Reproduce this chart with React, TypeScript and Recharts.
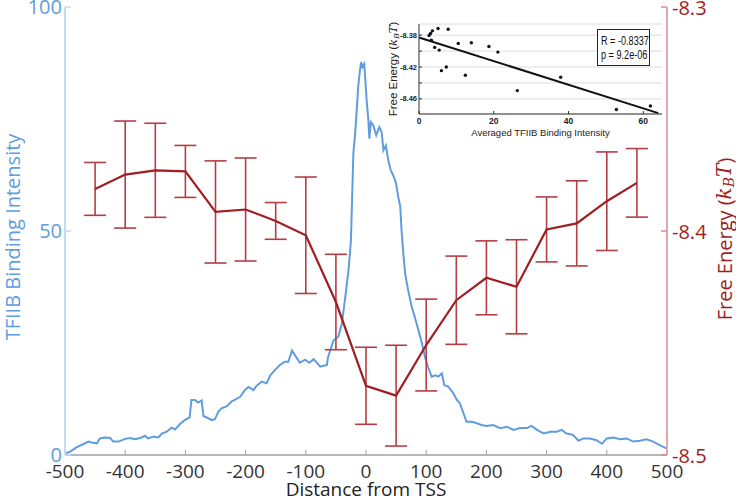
import React from 'react'
import {
  LineChart,
  Line,
  XAxis,
  YAxis,
  ErrorBar,
  Label,
  ComposedChart,
  Scatter,
  CartesianGrid,
  ReferenceLine,
} from 'recharts'

// TFIIB binding profile (blue)
const tssDistance = [
  -500, -492, -481, -470, -461, -455, -447, -442, -434, -425, -420, -411, -400, -392, -384, -375, -367, -362, -353, -345,
  -339, -331, -323, -317, -309, -301, -293, -290, -284, -279, -273, -270, -262, -256, -251, -245, -240, -231, -223, -218,
  -209, -201, -195, -187, -182, -173, -165, -159, -151, -143, -135, -129, -123, -118, -110, -101, -94, -87, -76, -65,
  -63, -54, -46, -40, -35, -29, -25, -21, -18, -15, -13, -10, -8, -6, -3, -1, 1, 4, 5.5, 8,
  12, 17, 22, 26, 29, 33, 37, 41, 45, 50, 54, 57, 59, 62, 65, 70, 76, 81, 87, 93,
  98, 103, 109, 115, 120, 126, 130, 137, 145, 151, 156, 162, 167, 176, 184, 192, 200, 211, 223, 234,
  245, 256, 267, 275, 284, 295, 306, 317, 325, 333, 344, 353, 361, 372, 383, 392, 400, 411, 422, 433,
  444, 455, 466, 477, 488, 499,
]
const tfiibIntensity = [
  0.4, 0.7, 1.7, 2.4, 3.0, 2.8, 2.6, 3.7, 3.9, 3.8, 3.0, 3.0, 3.6, 3.8, 3.5, 3.8, 4.3, 3.7, 4.1, 3.9,
  4.8, 5.2, 6.1, 5.7, 6.9, 7.8, 8.4, 12.3, 12.3, 11.7, 12.2, 8.7, 8.2, 7.8, 8.0, 9.7, 10.4, 10.9, 12.0, 12.3,
  13.0, 14.5, 15.2, 14.5, 15.4, 16.4, 16.0, 17.8, 19.0, 20.1, 20.8, 20.8, 23.3, 22.3, 20.6, 21.3, 20.6, 21.4, 19.7, 20.1,
  21.9, 25.6, 26.4, 29.4, 34.6, 41.3, 48.0, 67.4, 71.8, 77.7, 82.2, 85.9, 87.7, 86.6, 87.3, 83.6, 79.2, 74.7, 70.6, 74.3,
  73.6, 71.4, 73.2, 72.1, 68.0, 69.1, 65.8, 63.6, 62.5, 60.6, 57.3, 55.4, 50.2, 45.0, 40.5, 36.8, 33.1, 30.8, 27.9, 24.9,
  21.9, 19.7, 17.5, 17.8, 17.5, 18.2, 15.6, 15.2, 13.8, 12.3, 11.5, 9.3, 7.4, 7.4, 7.1, 6.7, 6.5, 6.7, 6.0, 6.3,
  5.6, 6.0, 6.0, 6.5, 5.6, 4.8, 5.2, 5.2, 5.6, 4.8, 4.5, 3.2, 3.7, 3.7, 3.3, 2.5, 3.7, 3.9, 3.5, 3.7,
  3.0, 3.2, 3.5, 3.0, 2.2, 1.5,
]

// Free energy per bin (red)
const binCenters = [-450, -400, -350, -300, -250, -200, -150, -100, -50, 0, 50, 100, 150, 200, 250, 300, 350, 400, 450]
const freeEnergy = [
  -8.3812, -8.3748, -8.3729, -8.3734, -8.3915, -8.3904, -8.3955, -8.4019, -8.4317, -8.4691,
  -8.4735, -8.4509, -8.4309, -8.4209, -8.4249, -8.3993, -8.3966, -8.3867, -8.3785,
]
const freeEnergyErr = [
  0.0118, 0.0239, 0.021, 0.0116, 0.0228, 0.023, 0.0082, 0.026, 0.0213, 0.0172,
  0.0225, 0.0205, 0.0197, 0.0165, 0.021, 0.0145, 0.019, 0.022, 0.0153,
]

const distanceTicks = [-500, -400, -300, -200, -100, 0, 100, 200, 300, 400, 500]
const intensityTicks = [0, 50, 100]
const energyTicks = [-8.5, -8.4, -8.3]

// inset: averaged intensity vs free energy
const insetIntensity = [2.7, 3.1, 3.6, 3.3, 4.2, 5.1, 5.4, 6.0, 7.3, 7.8, 10.5, 12.4, 14.0, 18.7, 21.1, 26.3, 37.9, 52.8, 61.9]
const insetEnergy = [
  -8.3804, -8.3779, -8.3746, -8.3863, -8.3954, -8.3716, -8.3988, -8.4246, -8.42, -8.3725,
  -8.3904, -8.4304, -8.3896, -8.3942, -8.4013, -8.4496, -8.4329, -8.4734, -8.4688,
]
const fitX = [0, 64]
const fitY = [-8.3829, -8.4779]
const insetXTicks = [0, 20, 40, 60]
const insetYTicks = [-8.46, -8.44, -8.42, -8.4, -8.38]
const insetYLabelled = [-8.46, -8.42, -8.38]
const statLines = ['R = -0.8337', 'p = 9.2e-06']

const BLUE = '#5f9ddf'
const BLUE_AXIS = '#c4daf2'
const RED = '#a11d22'
const RED_BAR = '#b53e44'
const RED_AXIS = '#d98c90'
const GRAY = '#a0a0a0'
const FONT = "'Open Sans', 'Noto Sans', sans-serif"
const INSET_FONT = "'Liberation Sans', Arial, sans-serif"

const profile = tssDistance.map((x, i) => ({ x, v: tfiibIntensity[i] }))
const energy = binCenters.map((x, i) => ({ x, e: freeEnergy[i], err: freeEnergyErr[i] }))
const scatter = insetIntensity.map((x, i) => ({ x, y: insetEnergy[i] }))

const BottomTick = (props: any) => {
  const { x, y, payload } = props
  const edge = payload.value === -500 || payload.value === 500
  return (
    <g>
      {!edge && <line x1={x} y1={y} x2={x} y2={y - 5} stroke={GRAY} />}
      <text x={x} y={y + 16} textAnchor="middle" dominantBaseline="central" fill="#333" fontSize={19} fontFamily={FONT}>
        {payload.value}
      </text>
    </g>
  )
}

const TopTick = (props: any) => {
  const { x, y, payload } = props
  if (payload.value === -500 || payload.value === 500) return <g />
  return <line x1={x} y1={y} x2={x} y2={y + 5} stroke={GRAY} />
}

const LeftTick = (props: any) => {
  const { x, y, payload } = props
  return (
    <g>
      <line x1={x} y1={y} x2={x + 6} y2={y} stroke={BLUE_AXIS} strokeWidth={1.5} />
      <text x={x - 3} y={y - 1} textAnchor="end" dominantBaseline="central" fill={BLUE} fontSize={20} fontFamily={FONT}>
        {payload.value}
      </text>
    </g>
  )
}

const RightTick = (props: any) => {
  const { x, y, payload } = props
  return (
    <g>
      <line x1={x} y1={y} x2={x - 6} y2={y} stroke={RED_AXIS} strokeWidth={1.5} />
      <text x={x + 5} y={y} textAnchor="start" dominantBaseline="central" fill={RED} fontSize={20} fontFamily={FONT}>
        {payload.value.toFixed(1)}
      </text>
    </g>
  )
}

const InsetBottomTick = (props: any) => {
  const { x, y, payload } = props
  return (
    <g>
      <line x1={x} y1={y} x2={x} y2={y - 3} stroke="#333" />
      <text x={x} y={y + 7} textAnchor="middle" dominantBaseline="central" fill="#222" fontSize={8.5} fontWeight="bold" fontFamily={INSET_FONT}>
        {payload.value}
      </text>
    </g>
  )
}

const InsetTopTick = (props: any) => {
  const { x, y } = props
  return <line x1={x} y1={y} x2={x} y2={y + 3} stroke="#333" />
}

const InsetLeftTick = (props: any) => {
  const { x, y, payload } = props
  const show = insetYLabelled.some((t) => Math.abs(t - payload.value) < 1e-6)
  return (
    <g>
      <line x1={x} y1={y} x2={x + 3} y2={y} stroke="#333" />
      {show && (
        <text x={x - 2} y={y} textAnchor="end" dominantBaseline="central" fill="#222" fontSize={7.5} fontWeight="bold" fontFamily={INSET_FONT}>
          {payload.value.toFixed(2)}
        </text>
      )}
    </g>
  )
}

const InsetRightTick = (props: any) => {
  const { x, y } = props
  return <line x1={x} y1={y} x2={x - 3} y2={y} stroke="#333" />
}

const kbt = (size: number, shift: number) => [
  <tspan key="k" fontStyle="italic" fontFamily="'DejaVu Serif', serif">k</tspan>,
  <tspan key="b" fontStyle="italic" fontFamily="'DejaVu Serif', serif" fontSize={size} dy={shift}>B</tspan>,
  <tspan key="t" fontStyle="italic" fontFamily="'DejaVu Serif', serif" dy={-shift}>T</tspan>,
]

export default function App() {
  return (
    <div style={{ position: 'absolute', left: 0, top: 0, width: 736, height: 502, background: '#fff' }}>
      <LineChart width={736} height={502} margin={{ top: 7, right: 0, bottom: 0, left: 0 }}>
        <XAxis
          dataKey="x"
          type="number"
          domain={[-500, 500]}
          ticks={distanceTicks}
          interval={0}
          height={47}
          tickSize={0}
          tickMargin={0}
          tick={<BottomTick />}
          axisLine={{ stroke: GRAY, strokeWidth: 1.5 }}
        >
          <Label
            content={(p: any) => (
              <text
                x={p.viewBox.x + p.viewBox.width / 2}
                y={p.viewBox.y + 34}
                textAnchor="middle"
                dominantBaseline="central"
                fill="#222"
                fontSize={19}
                fontFamily={FONT}
              >
                Distance from TSS
              </text>
            )}
          />
        </XAxis>
        <XAxis
          xAxisId="top"
          orientation="top"
          type="number"
          domain={[-500, 500]}
          ticks={distanceTicks}
          interval={0}
          height={0}
          tickSize={0}
          tickMargin={0}
          tick={<TopTick />}
          axisLine={{ stroke: GRAY, strokeWidth: 1.5 }}
        />
        <YAxis
          yAxisId="left"
          type="number"
          domain={[0, 100]}
          ticks={intensityTicks}
          interval={0}
          width={65}
          tickSize={0}
          tickMargin={0}
          tick={<LeftTick />}
          axisLine={{ stroke: BLUE_AXIS, strokeWidth: 2 }}
        >
          <Label
            content={(p: any) => {
              const cx = p.viewBox.x + 12
              const cy = p.viewBox.y + p.viewBox.height / 2 + 6
              return (
                <text
                  transform={`translate(${cx},${cy}) rotate(-90)`}
                  textAnchor="middle"
                  dominantBaseline="central"
                  fill={BLUE}
                  fontSize={20}
                  fontFamily={FONT}
                >
                  TFIIB Binding Intensity
                </text>
              )
            }}
          />
        </YAxis>
        <YAxis
          yAxisId="right"
          orientation="right"
          type="number"
          domain={[-8.5, -8.3]}
          ticks={energyTicks}
          interval={0}
          width={69}
          tickSize={0}
          tickMargin={0}
          allowDataOverflow
          tick={<RightTick />}
          axisLine={{ stroke: RED_AXIS, strokeWidth: 1.5 }}
        >
          <Label
            content={(p: any) => {
              const cx = p.viewBox.x + 57
              const cy = p.viewBox.y + p.viewBox.height / 2 + 8
              return (
                <text
                  transform={`translate(${cx},${cy}) rotate(-90)`}
                  textAnchor="middle"
                  dominantBaseline="central"
                  fill={RED}
                  fontSize={20}
                  fontFamily={FONT}
                >
                  Free Energy (
                  {kbt(14, 5)}
                  )
                </text>
              )
            }}
          />
        </YAxis>
        <Line
          yAxisId="left"
          data={profile}
          dataKey="v"
          type="linear"
          stroke={BLUE}
          strokeWidth={2}
          dot={false}
          isAnimationActive={false}
        />
        <Line
          yAxisId="right"
          data={energy}
          dataKey="e"
          type="linear"
          stroke={RED}
          strokeWidth={2.2}
          dot={false}
          isAnimationActive={false}
        >
          <ErrorBar dataKey="err" direction="y" width={11} stroke={RED_BAR} strokeWidth={1.6} />
        </Line>
      </LineChart>

      <div style={{ position: 'absolute', left: 370, top: 0, width: 300, height: 140 }}>
        <ComposedChart width={300} height={140} margin={{ top: 24, right: 8, bottom: 0, left: 0 }}>
          <CartesianGrid vertical={false} stroke="#dddddd" />
          <XAxis
            dataKey="x"
            type="number"
            domain={[0, 65]}
            ticks={insetXTicks}
            interval={0}
            height={26}
            tickSize={0}
            tickMargin={0}
            tick={<InsetBottomTick />}
            axisLine={{ stroke: '#333' }}
          >
            <Label
              content={(p: any) => (
                <text
                  x={p.viewBox.x + p.viewBox.width / 2}
                  y={p.viewBox.y + 18}
                  textAnchor="middle"
                  dominantBaseline="central"
                  fill="#222"
                  fontSize={9.5}
                  fontFamily={INSET_FONT}
                >
                  Averaged TFIIB Binding Intensity
                </text>
              )}
            />
          </XAxis>
          <XAxis
            xAxisId="top"
            orientation="top"
            type="number"
            domain={[0, 65]}
            ticks={insetXTicks}
            interval={0}
            height={0}
            tickSize={0}
            tickMargin={0}
            tick={<InsetTopTick />}
            axisLine={{ stroke: '#333' }}
          />
          <YAxis
            dataKey="y"
            type="number"
            domain={[-8.479, -8.366]}
            ticks={insetYTicks}
            interval={0}
            width={49}
            tickSize={0}
            tickMargin={0}
            allowDataOverflow
            tick={<InsetLeftTick />}
            axisLine={{ stroke: '#333' }}
          >
            <Label
              content={(p: any) => {
                const cx = p.viewBox.x + 23
                const cy = p.viewBox.y + p.viewBox.height / 2
                return (
                  <text
                    transform={`translate(${cx},${cy}) rotate(-90)`}
                    textAnchor="middle"
                    dominantBaseline="central"
                    fill="#222"
                    fontSize={11.5}
                    fontFamily={INSET_FONT}
                  >
                    Free Energy (
                    {kbt(8, 3)}
                    )
                  </text>
                )
              }}
            />
          </YAxis>
          <YAxis
            yAxisId="r"
            orientation="right"
            type="number"
            domain={[-8.479, -8.366]}
            ticks={insetYTicks}
            interval={0}
            width={0}
            tickSize={0}
            tickMargin={0}
            tick={<InsetRightTick />}
            axisLine={{ stroke: '#333' }}
          />
          <ReferenceLine
            segment={[
              { x: fitX[0], y: fitY[0] },
              { x: fitX[1], y: fitY[1] },
            ]}
            stroke="#111"
            strokeWidth={2}
          />
          <Scatter
            data={scatter}
            dataKey="y"
            isAnimationActive={false}
            shape={(p: any) => <circle cx={p.cx} cy={p.cy} r={1.7} fill="#111" />}
          />
        </ComposedChart>
        <div
          style={{
            position: 'absolute',
            left: 227,
            top: 29,
            width: 53,
            height: 37,
            border: '1px solid #222',
            background: '#fff',
            fontFamily: INSET_FONT,
            fontSize: 12,
            lineHeight: '14px',
            color: '#111',
            padding: '4px 0 0 3px',
            boxSizing: 'border-box',
            whiteSpace: 'nowrap',
            overflow: 'hidden',
          }}
        >
          {statLines.map((s) => (
            <div key={s} style={{ transform: 'scaleX(0.76)', transformOrigin: 'left center', fontWeight: 500 }}>
              {s}
            </div>
          ))}
        </div>
      </div>
    </div>
  )
}
